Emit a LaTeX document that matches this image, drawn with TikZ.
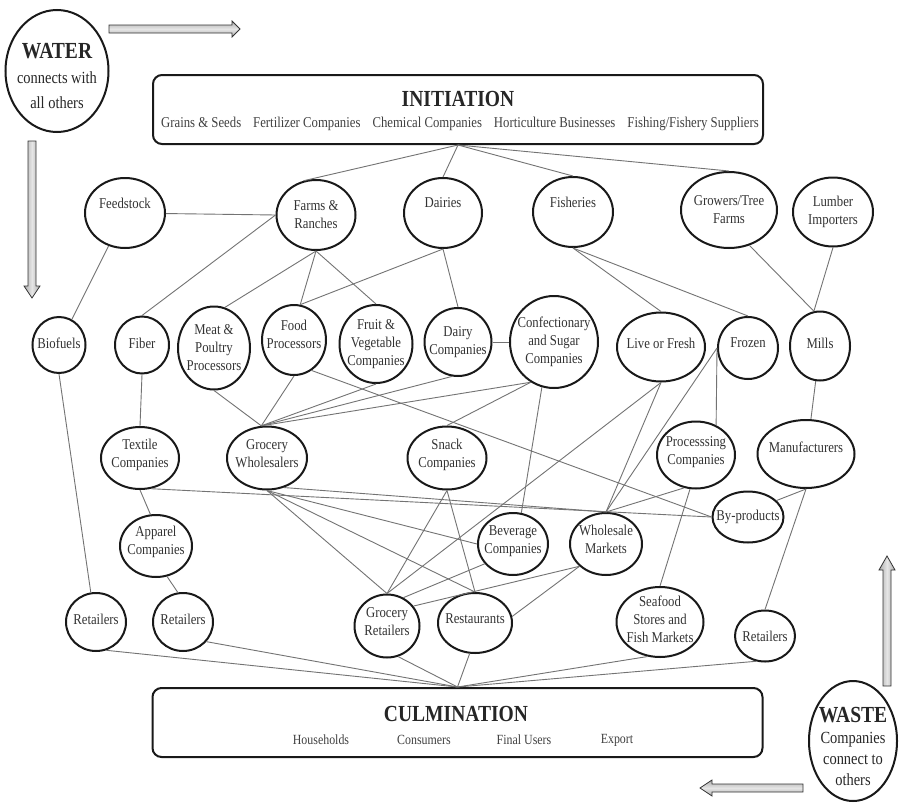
\documentclass[tikz,border=0pt]{standalone}
\usepackage{fontspec}
\setmainfont{Liberation Serif}[FakeStretch=0.85]
\usetikzlibrary{shapes.geometric}
\newcommand\lblfont{\fontsize{15}{18}\selectfont}
\newcommand\ttlfont{\fontsize{23}{26}\selectfont\bfseries}
\newcommand\subtxtfont{\fontsize{14}{17}\selectfont}
\newcommand\medtxtfont{\fontsize{17}{25}\selectfont}
\begin{document}
\begin{tikzpicture}[x=1pt,y=-1pt,
  ell/.style={ellipse, draw=black!90, line width=2pt, inner xsep=-30pt, inner ysep=-25pt,
              align=center, text=black!80, font=\lblfont},
  lift/.style={text depth=#1},
  edge/.style={draw=black!55, line width=0.9pt},
  bigbox/.style={draw=black!90, line width=2pt, rounded corners=9pt,
                 minimum width=610pt, minimum height=69pt, inner sep=0pt},
  ttl/.style={text=black!85, font=\ttlfont, inner sep=0pt},
  subtxt/.style={text=black!75, font=\subtxtfont, inner sep=0pt},
  harrow/.style={draw=black!80, line width=0.8pt, top color=gray!65, bottom color=gray!65, middle color=gray!20},
  varrow/.style={draw=black!80, line width=0.8pt, left color=gray!65, right color=gray!65, middle color=gray!20}
]
\useasboundingbox (0,0) rectangle (899,803);
\fill[white] (0,0) rectangle (899,803);

% ---- big boxes
\node[bigbox] (ini) at (458,109.5) {};
\node[ttl] (iniT) at (458,99) {INITIATION};
\node[subtxt, font=\fontsize{15}{17}\selectfont] (iniS) at (460,124) {Grains \& Seeds\hspace{12pt}Fertilizer Companies\hspace{12pt}Chemical Companies\hspace{12pt}Horticulture Businesses\hspace{12pt}Fishing/Fishery Suppliers};

\node[bigbox] (cul) at (457.5,722.5) {};
\node[ttl] (culT) at (456,714) {CULMINATION};
\node[subtxt] (culA) at (321,740) {Households};
\node[subtxt] (culB) at (424,740) {Consumers};
\node[subtxt] (culC) at (524,740) {Final Users};
\node[subtxt] (culD) at (617,740) {Export};

% ---- water / waste
\node[ell, minimum width=103pt, minimum height=122pt, text=black!85, font=\medtxtfont] (water) at (57,71)
  {\rule{0pt}{26pt}{\ttlfont WATER}\\connects with\\all others};
\node[ell, minimum width=88pt, minimum height=120pt, text=black!85, font=\fontsize{17}{21}\selectfont] (waste) at (853,741)
  {\rule{0pt}{26pt}{\ttlfont WASTE}\\Companies\\connect to\\others};

% ---- block arrows
\path[harrow] (109,25) -- (232,25) -- (232,21) -- (240,29) -- (232,37) -- (232,33) -- (109,33) -- cycle;
\path[varrow] (28,141) -- (28,286) -- (24,286) -- (32,298) -- (40,286) -- (36,286) -- (36,141) -- cycle;
\path[varrow] (883,686) -- (883,570) -- (879,570) -- (887,556) -- (895,570) -- (891,570) -- (891,686) -- cycle;
\path[harrow] (803,784) -- (712,784) -- (712,780) -- (700,788) -- (712,796) -- (712,792) -- (803,792) -- cycle;

% ---- row 1
\node[ell, minimum width=80pt, minimum height=70pt, lift=20pt] (feed) at (125,213) {Feedstock};
\node[ell, minimum width=79pt, minimum height=70pt] (farms) at (316,215) {Farms \&\\Ranches};
\node[ell, minimum width=78pt, minimum height=70pt, lift=20pt] (dairies) at (443,213) {Dairies};
\node[ell, minimum width=80pt, minimum height=70pt, lift=20pt] (fisheries) at (573,212) {Fisheries};
\node[ell, minimum width=96pt, minimum height=76pt] (growers) at (729,210) {Growers/Tree\\Farms};
\node[ell, minimum width=80pt, minimum height=69pt] (lumber) at (833,212) {Lumber\\Importers};

% ---- row 2
\node[ell, minimum width=53pt, minimum height=56pt, lift=4pt] (bio) at (59,345) {Biofuels};
\node[ell, minimum width=54pt, minimum height=57pt, lift=4pt] (fiber) at (142,345) {Fiber};
\node[ell, minimum width=72pt, minimum height=83pt] (meat) at (214,348) {Meat \&\\Poultry\\Processors};
\node[ell, minimum width=64pt, minimum height=70pt, lift=12pt] (food) at (294,340) {Food\\Processors};
\node[ell, minimum width=73pt, minimum height=78pt] (fruit) at (376,344) {Fruit \&\\Vegetable\\Companies};
\node[ell, minimum width=67pt, minimum height=68pt] (dairyco) at (458,342) {Dairy\\Companies};
\node[ell, minimum width=88pt, minimum height=92pt] (conf) at (554,342) {Confectionary\\and Sugar\\Companies};
\node[ell, minimum width=88pt, minimum height=69pt, lift=8pt] (live) at (661,347) {Live or Fresh};
\node[ell, minimum width=60pt, minimum height=62pt, lift=10pt] (frozen) at (748,348) {Frozen};
\node[ell, minimum width=60pt, minimum height=69pt, lift=6pt] (mills) at (820,346) {Mills};

% ---- row 3
\node[ell, minimum width=78pt, minimum height=62pt, lift=9pt] (textile) at (140,458) {Textile\\Companies};
\node[ell, minimum width=80pt, minimum height=63pt, lift=9pt] (gw) at (267,458) {Grocery\\Wholesalers};
\node[ell, minimum width=79pt, minimum height=63pt, lift=9pt] (snack) at (447,458) {Snack\\Companies};
\node[ell, minimum width=78pt, minimum height=67pt, lift=9pt] (proc) at (696,455) {Processsing\\Companies};
\node[ell, minimum width=97pt, minimum height=68pt, lift=14pt] (manu) at (806,454) {Manufacturers};
\node[ell, minimum width=71pt, minimum height=51pt] (byp) at (748,517) {By-products};

% ---- row 4
\node[ell, minimum width=72pt, minimum height=62pt, lift=12pt] (apparel) at (156,546) {Apparel\\Companies};
\node[ell, minimum width=70pt, minimum height=62pt, lift=9pt] (bev) at (513,544) {Beverage\\Companies};
\node[ell, minimum width=72pt, minimum height=62pt, lift=9pt] (whole) at (606,544) {Wholesale\\Markets};

% ---- row 5
\node[ell, minimum width=60pt, minimum height=58pt, lift=6pt] (ret1) at (96,622) {Retailers};
\node[ell, minimum width=60pt, minimum height=58pt, lift=6pt] (ret2) at (183,622) {Retailers};
\node[ell, minimum width=65pt, minimum height=63pt, lift=9pt] (gr) at (387,626) {Grocery\\Retailers};
\node[ell, minimum width=74pt, minimum height=60pt, lift=8pt] (rest) at (475,623) {Restaurants};
\node[ell, minimum width=87pt, minimum height=70pt, lift=6pt] (seafood) at (660,622) {Seafood\\Stores and\\Fish Markets};
\node[ell, minimum width=60pt, minimum height=51pt] (ret3) at (765,636) {Retailers};

% ---- connectors
\draw[edge] (ini.south) -- (farms.110);
\draw[edge] (ini.south) -- (dairies.north);
\draw[edge] (ini.south) -- (fisheries.north);
\draw[edge] (ini.south) -- (growers.north);

\draw[edge] (feed) -- (farms.west);
\draw[edge] (feed) -- (bio);
\draw[edge] (farms.west) -- (fiber.north);
\draw[edge] (farms.south) -- (meat.75);
\draw[edge] (farms.south) -- (food.80);
\draw[edge] (farms.south) -- (fruit.north);
\draw[edge] (dairies.south) -- (food.80);
\draw[edge] (dairies.south) -- (dairyco.north);
\draw[edge] (dairyco.east) -- (conf.west);
\draw[edge] (fisheries.south) -- (live.north);
\draw[edge] (fisheries.south) -- (frozen.north);
\draw[edge] (growers.300) -- (mills.100);
\draw[edge] (lumber.south) -- (mills.100);

\draw[edge] (bio.south) -- (ret1.100);
\draw[edge] (fiber.south) -- (textile.north);
\draw[edge] (meat.south) -- (gw.100);
\draw[edge] (food.south) -- (gw.100);
\draw[edge] (fruit.south) -- (gw.100);
\draw[edge] (dairyco.260) -- (gw.100);
\draw[edge] (conf.240) -- (gw.100);
\draw[edge] (conf.240) -- (snack.north);
\draw[edge] (conf.255) -- (bev.75);
\draw[edge] (food.300) -- (byp.west);
\draw[edge] (textile.290) -- (byp.west);
\draw[edge] (gw.300) -- (whole.north);
\draw[edge] (live.south) -- (gr.north);
\draw[edge] (live.south) -- (whole.north);
\draw[edge] (frozen.west) -- (whole.north);
\draw[edge] (frozen.west) -- (proc.56);
\draw[edge] (mills.263) -- (manu.82);
\draw[edge] (manu.south) -- (byp.30);
\draw[edge] (manu.south) -- (ret3.north);
\draw[edge] (proc.250) -- (whole.north);
\draw[edge] (proc.260) -- (seafood.north);

\draw[edge] (textile.south) -- (apparel.100);
\draw[edge] (apparel.290) -- (ret2.100);
\draw[edge] (snack.south) -- (gr.north);
\draw[edge] (snack.south) -- (rest.north);
\draw[edge] (gw.south) -- (gr.north);
\draw[edge] (gw.south) -- (rest.north);
\draw[edge] (gw.south) -- (bev.west);
\draw[edge] (bev.215) -- (gr.60);
\draw[edge] (whole.220) -- (gr.37);
\draw[edge] (whole.220) -- (rest.10);

\draw[edge] (ret1.290) -- (cul.north);
\draw[edge] (ret2.320) -- (cul.north);
\draw[edge] (gr.290) -- (cul.north);
\draw[edge] (rest.260) -- (cul.north);
\draw[edge] (seafood.250) -- (cul.north);
\draw[edge] (ret3.250) -- (cul.north);
\end{tikzpicture}
\end{document}
